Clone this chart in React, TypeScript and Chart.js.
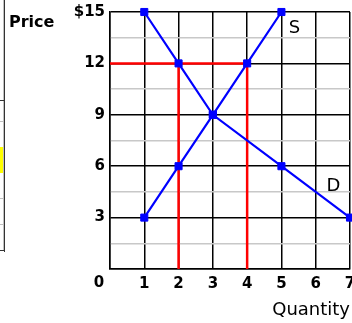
import React, { useEffect, useRef } from 'react';
import { Chart, registerables } from 'chart.js';

Chart.register(...registerables);

// Supply curve (S)
const supplyQty = [1, 2, 3, 4, 5];
const supplyPrice = [3, 6, 9, 12, 15];
// Demand curve (D)
const demandQty = [1, 2, 3, 5, 7];
const demandPrice = [15, 12, 9, 6, 3];
// Price floor at $12: quantity demanded 2, quantity supplied 4
const floorPrice = 12;
const qtyDemanded = 2;
const qtySupplied = 4;
// Axis ticks
const xTickValues = [1, 2, 3, 4, 5, 6, 7];
const yTickValues = [3, 6, 9, 12, 15];
const yTickLabels = ['3', '6', '9', '12', '$15'];

const FONT = 'DejaVu Sans';

const textPlugin = {
  id: 'textLabels',
  afterDraw(chart: any) {
    const { ctx, scales } = chart;
    const x = scales.x;
    const y = scales.y;
    ctx.save();
    ctx.fillStyle = '#000';
    // Price title
    ctx.font = `bold 16px "${FONT}"`;
    ctx.textAlign = 'left';
    ctx.textBaseline = 'alphabetic';
    ctx.fillText('Price', 9, 27);
    // origin 0
    ctx.font = `bold 15px "${FONT}"`;
    ctx.textAlign = 'center';
    ctx.textBaseline = 'middle';
    ctx.fillText('0', x.getPixelForValue(0) - 11, 283);
    // Quantity title
    ctx.font = `18px "${FONT}"`;
    ctx.textAlign = 'right';
    ctx.textBaseline = 'alphabetic';
    ctx.fillText('Quantity', 350, 315);
    // curve labels
    ctx.textAlign = 'center';
    ctx.textBaseline = 'middle';
    ctx.fillText('S', x.getPixelForValue(5.38), y.getPixelForValue(14.05));
    ctx.fillText('D', x.getPixelForValue(6.52), y.getPixelForValue(4.84));
    ctx.restore();
  },
};

function Table() {
  const line = (top: number, color: string, width = 5) => (
    <div style={{ position: 'absolute', left: 0, top, width, height: 1, background: color }} />
  );
  return (
    <>
      <div style={{ position: 'absolute', left: 0, top: 147, width: 4, height: 26, background: '#ffff00' }} />
      <div style={{ position: 'absolute', left: 3, top: 0, width: 1, height: 251, background: '#c0c0c0' }} />
      <div style={{ position: 'absolute', left: 4, top: 0, width: 1, height: 252, background: '#333' }} />
      {line(100, '#333')}
      {line(121, '#c0c0c0', 4)}
      {line(198, '#c0c0c0', 4)}
      {line(224, '#c0c0c0', 4)}
      {line(250, '#333')}
    </>
  );
}

export default function App() {
  const ref = useRef<HTMLCanvasElement>(null);

  useEffect(() => {
    if (!ref.current) return;
    const blue = '#0000ff';
    const red = '#ff0000';
    const chart = new Chart(ref.current, {
      type: 'line',
      data: {
        datasets: [
          {
            label: 'S',
            data: supplyQty.map((q, i) => ({ x: q, y: supplyPrice[i] })),
            borderColor: blue,
            backgroundColor: blue,
            borderWidth: 2.2,
            pointStyle: 'rect',
            pointRadius: 5,
            pointBorderWidth: 1,
            clip: false as any,
            order: 1,
          },
          {
            label: 'D',
            data: demandQty.map((q, i) => ({ x: q, y: demandPrice[i] })),
            borderColor: blue,
            backgroundColor: blue,
            borderWidth: 2.2,
            pointStyle: 'rect',
            pointRadius: 5,
            pointBorderWidth: 1,
            clip: false as any,
            order: 1,
          },
          {
            label: 'floor',
            data: [
              { x: 0, y: floorPrice },
              { x: qtySupplied, y: floorPrice },
            ],
            borderColor: red,
            borderWidth: 2.5,
            pointRadius: 0,
            clip: false as any,
            order: 2,
          },
          {
            label: 'qd',
            data: [
              { x: qtyDemanded, y: 0 },
              { x: qtyDemanded, y: floorPrice },
            ],
            borderColor: red,
            borderWidth: 2.5,
            pointRadius: 0,
            order: 2,
          },
          {
            label: 'qs',
            data: [
              { x: qtySupplied, y: 0 },
              { x: qtySupplied, y: floorPrice },
            ],
            borderColor: red,
            borderWidth: 2.5,
            pointRadius: 0,
            order: 2,
          },
        ],
      },
      options: {
        animation: false,
        responsive: false,
        devicePixelRatio: 1,
        layout: { autoPadding: false, padding: { top: 12, right: 2, left: 0, bottom: 0 } },
        plugins: { legend: { display: false }, tooltip: { enabled: false } },
        scales: {
          x: {
            type: 'linear',
            min: 0,
            max: 7,
            afterFit: (s: any) => {
              s.height = 54;
              s.paddingLeft = 0;
              s.paddingRight = 0;
            },
            afterBuildTicks: (s: any) => {
              s.ticks = [0, ...xTickValues].map((v) => ({ value: v }));
            },
            ticks: {
              autoSkip: false,
              maxRotation: 0,
              padding: 6,
              color: '#000',
              font: { family: FONT, size: 15, weight: 'bold' },
              callback: (v: any) => (xTickValues.includes(v) ? String(v) : ''),
            },
            grid: { color: '#000', lineWidth: 1.5, drawTicks: false },
            border: { display: true, color: '#000', width: 1.5 },
          },
          y: {
            type: 'linear',
            min: 0,
            max: 15,
            afterFit: (s: any) => {
              s.width = 110;
              s.paddingTop = 0;
              s.paddingBottom = 0;
            },
            afterBuildTicks: (s: any) => {
              const arr: any[] = [];
              for (let i = 0; i <= 10; i++) arr.push({ value: i * 1.5 });
              s.ticks = arr;
            },
            ticks: {
              autoSkip: false,
              padding: 5,
              color: '#000',
              font: { family: FONT, size: 15, weight: 'bold' },
              callback: (v: any) => {
                const idx = yTickValues.findIndex((t) => Math.abs(t - v) < 1e-6);
                return idx >= 0 ? yTickLabels[idx] : '';
              },
            },
            grid: {
              drawTicks: false,
              lineWidth: 1.5,
              color: (c: any) => {
                const v = c.tick ? c.tick.value : 0;
                return Math.abs(v % 3) < 1e-6 ? '#000' : '#c8c8c8';
              },
            },
            border: { display: true, color: '#000', width: 1.5 },
          },
        },
      },
      plugins: [textPlugin],
    });
    return () => chart.destroy();
  }, []);

  return (
    <div style={{ position: 'fixed', left: 0, top: 0, width: 352, height: 323, background: '#fff', overflow: 'hidden' }}>
      <Table />
      <canvas ref={ref} width={352} height={323} style={{ position: 'absolute', left: 0, top: 0, width: 352, height: 323 }} />
    </div>
  );
}
